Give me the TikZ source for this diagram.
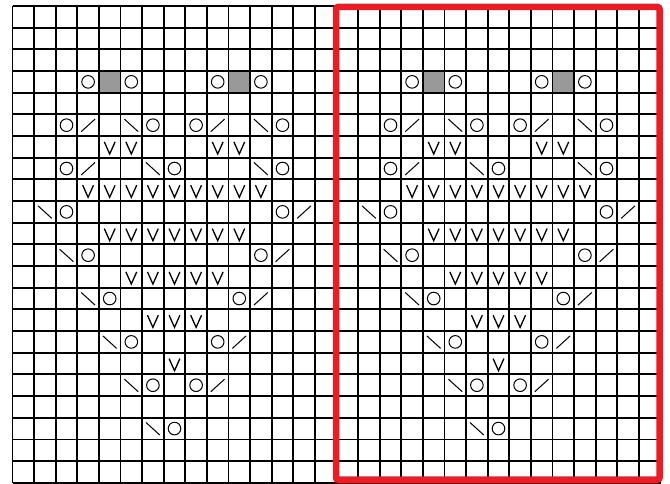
\documentclass[tikz,border=0pt]{standalone}
\definecolor{chartred}{RGB}{237,28,36}
\definecolor{chartgrey}{RGB}{153,153,153}
\begin{document}
\begin{tikzpicture}[x=1pt,y=-1pt,
  gridline/.style={line width=1.8pt,black},
  symline/.style={line width=1.0pt,black},
  greycell/.style={fill=chartgrey},
  redframe/.style={line width=6.5pt,draw=chartred,rounded corners=2pt}]
\useasboundingbox (0,0) rectangle (670,484);
\begin{scope}[shift={(12.5,6)},x=21.6pt,y=-21.67pt]
  \foreach \o in {0,15}{
    % grey cells
    \foreach \c/\r in {5/4,11/4}
      \fill[greycell] (\c+\o-1,\r-1) rectangle (\c+\o,\r);
    % yarn overs (circles)
    \foreach \c/\r in {4/4,6/4,10/4,12/4,3/6,7/6,9/6,13/6,3/8,8/8,13/8,3/10,13/10,4/12,12/12,5/14,11/14,6/16,10/16,7/18,9/18,8/20}
      \draw[symline] (\c+\o-0.5,\r-0.5) circle[radius=6.3pt];
    % rising slashes
    \foreach \c/\r in {4/6,10/6,4/8,14/10,13/12,12/14,11/16,10/18}
      \draw[symline] (\c+\o-0.82,\r-0.2) -- (\c+\o-0.18,\r-0.78);
    % falling slashes
    \foreach \c/\r in {6/6,12/6,7/8,12/8,2/10,3/12,4/14,5/16,6/18,7/20}
      \draw[symline] (\c+\o-0.82,\r-0.78) -- (\c+\o-0.18,\r-0.2);
    % V symbols
    \foreach \c/\r in {5/7,6/7,10/7,11/7,
        4/9,5/9,6/9,7/9,8/9,9/9,10/9,11/9,12/9,
        5/11,6/11,7/11,8/11,9/11,10/11,11/11,
        6/13,7/13,8/13,9/13,10/13,
        7/15,8/15,9/15,
        8/17}
      \draw[symline,line width=1.3pt] (\c+\o-0.75,\r-0.73) -- (\c+\o-0.5,\r-0.17) -- (\c+\o-0.25,\r-0.73);
  }
  % grid
  \foreach \i in {0,...,30}
    \draw[gridline] (\i,0) -- (\i,22);
  \foreach \j in {0,...,22}
    \draw[gridline] (0,\j) -- (30,\j);
\end{scope}
% red repeat frame
\draw[redframe] (336,7) rectangle (659.5,479.5);
\end{tikzpicture}
\end{document}
